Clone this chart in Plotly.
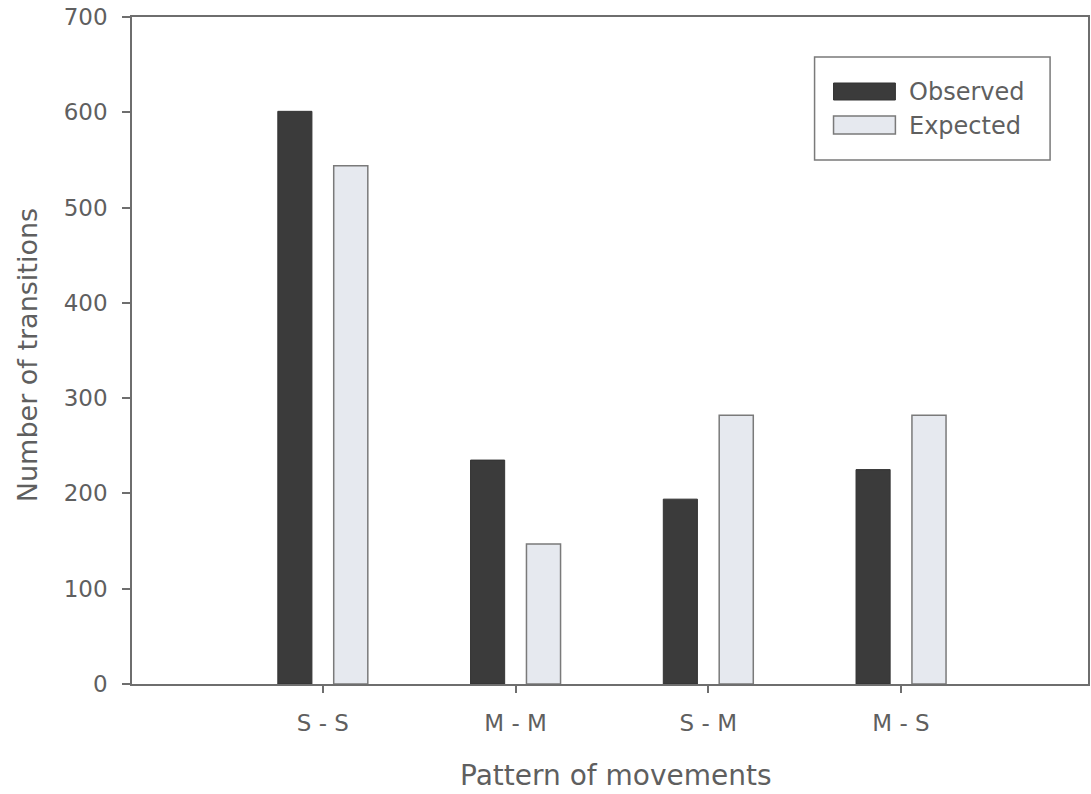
import plotly.graph_objects as go

categories = ["S - S", "M - M", "S - M", "M - S"]
observed = [601, 235, 194, 225]
expected = [544, 147, 282, 282]
series_names = ["Observed", "Expected"]
y_ticks = [0, 100, 200, 300, 400, 500, 600, 700]

FONT = "DejaVu Sans"
TXT = "#5f5f5f"
AX = "#6e6e6e"
DARK = "#3b3b3b"
LIGHT = "#e6e9ef"

fig = go.Figure()
fig.add_trace(go.Bar(x=categories, y=observed, name=series_names[0],
                     marker=dict(color=DARK, line=dict(color="#333333", width=1)),
                     showlegend=False))
fig.add_trace(go.Bar(x=categories, y=expected, name=series_names[1],
                     marker=dict(color=LIGHT, line=dict(color="#7a7a7a", width=1.5)),
                     showlegend=False))

L, R, T, B = 132, 1, 17, 110
W, H = 1091, 794
pw, ph = W - L - R, H - T - B

def px(x):
    return (x - L) / pw

def py(y):
    return (H - B - y) / ph

fig.update_layout(
    width=W, height=H,
    margin=dict(l=L, r=R, t=T, b=B),
    paper_bgcolor="white", plot_bgcolor="white",
    barmode="group", bargap=0.42, bargroupgap=0.39,
    font=dict(family=FONT, color=TXT, size=23),
    xaxis=dict(type="category", range=[-0.99, 3.97], showline=True, linecolor=AX,
               linewidth=1.5, mirror=True, ticks="outside", ticklen=7, tickcolor=AX,
               tickwidth=1.5, showgrid=False, ticklabelstandoff=11,
               tickfont=dict(size=23, family=FONT, color=TXT)),
    yaxis=dict(range=[0, 700], tickvals=y_ticks, showline=True, linecolor=AX,
               linewidth=1.5, mirror=True, ticks="outside", ticklen=8, tickcolor=AX,
               tickwidth=1.5, showgrid=False, zeroline=False, ticklabelstandoff=10,
               tickfont=dict(size=23, family=FONT, color=TXT)),
)

# axis titles
fig.add_annotation(text="Pattern of movements", xref="paper", yref="paper",
                   x=px(617), y=py(775), xanchor="center", yanchor="middle", showarrow=False,
                   font=dict(size=28, family=FONT, color=TXT))
fig.add_annotation(text="Number of transitions", xref="paper", yref="paper",
                   x=px(27), y=py(355), xanchor="center", yanchor="middle", showarrow=False,
                   textangle=-90, font=dict(size=27, family=FONT, color=TXT))

# legend box
fig.add_shape(type="rect", xref="paper", yref="paper",
              x0=px(816), x1=px(1052), y0=py(160), y1=py(57),
              line=dict(color="#7a7a7a", width=1.5), fillcolor="white")
fig.add_shape(type="rect", xref="paper", yref="paper",
              x0=px(835), x1=px(897), y0=py(100), y1=py(83),
              line=dict(color="#333333", width=1), fillcolor=DARK)
fig.add_shape(type="rect", xref="paper", yref="paper",
              x0=px(835), x1=px(897), y0=py(134), y1=py(116),
              line=dict(color="#7a7a7a", width=1.5), fillcolor=LIGHT)
fig.add_annotation(text=series_names[0], xref="paper", yref="paper",
                   x=px(909), y=py(92), xanchor="left", yanchor="middle", showarrow=False,
                   font=dict(size=24, family=FONT, color=TXT))
fig.add_annotation(text=series_names[1], xref="paper", yref="paper",
                   x=px(909), y=py(126), xanchor="left", yanchor="middle", showarrow=False,
                   font=dict(size=24, family=FONT, color=TXT))

fig.write_html("out.html", config={"displayModeBar": False})

# remove default page margin so the figure sits at the window origin
with open("out.html", "r", encoding="utf-8") as f:
    html = f.read()
html = html.replace("<head>", "<head><style>html,body{margin:0;padding:0;overflow:hidden;}</style>", 1)
with open("out.html", "w", encoding="utf-8") as f:
    f.write(html)
